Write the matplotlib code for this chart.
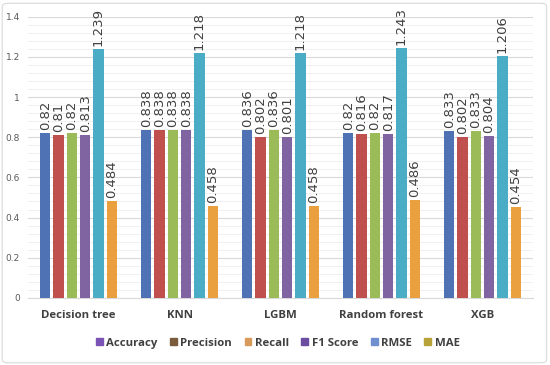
import numpy as np
import matplotlib
matplotlib.use("Agg")
import matplotlib.pyplot as plt
from matplotlib.patches import Patch, FancyBboxPatch

models = ["Decision tree", "KNN", "LGBM", "Random forest", "XGB"]
metrics = ["Accuracy", "Precision", "Recall", "F1 Score", "RMSE", "MAE"]
accuracy = [0.82, 0.838, 0.836, 0.82, 0.833]
precision = [0.81, 0.838, 0.802, 0.816, 0.802]
recall = [0.82, 0.838, 0.836, 0.82, 0.833]
f1 = [0.813, 0.838, 0.801, 0.817, 0.804]
rmse = [1.239, 1.218, 1.218, 1.243, 1.206]
mae = [0.484, 0.458, 0.458, 0.486, 0.454]
series = [accuracy, precision, recall, f1, rmse, mae]

bar_colors = ["#4f72b5", "#c0504d", "#9bbb59", "#8064a2", "#4bacc6", "#eba040"]
legend_colors = ["#7b52b5", "#7a5c3c", "#d89a5a", "#6a4fa0", "#6f8fd0", "#b8a33a"]

fig = plt.figure(figsize=(5.5, 3.65), dpi=100)
ax = fig.add_axes([0.051, 0.184, 0.918, 0.77])

x = np.arange(len(models))
pitch = 0.132
w = 0.1
for i, vals in enumerate(series):
    pos = x + (i - 2.5) * pitch
    ax.bar(pos, vals, width=w, color=bar_colors[i], zorder=3)
    for p, v in zip(pos, vals):
        ax.text(p, v + 0.015, f"{v:g}", rotation=90, ha="center", va="bottom",
                fontsize=9.5, color="#404040", clip_on=False)

ax.set_ylim(0, 1.4)
ax.set_xlim(-0.5, 4.5)
ax.set_yticks(np.arange(0, 1.41, 0.2))
ax.set_yticklabels(["0", "0.2", "0.4", "0.6", "0.8", "1", "1.2", "1.4"])
ax.set_yticks(np.arange(0, 1.41, 0.04), minor=True)
ax.grid(axis="y", which="major", color="#d9d9d9", lw=0.8, zorder=0)
ax.grid(axis="y", which="minor", color="#eeeeee", lw=0.6, zorder=0)
ax.tick_params(axis="y", which="both", length=0, labelsize=6.5, labelcolor="#595959", pad=6)
ax.set_xticks(x)
ax.set_xticklabels(models, fontsize=8.2, fontweight="bold", color="#404040",
                   family="Open Sans")
ax.tick_params(axis="x", length=0, pad=9)
for s in ["top", "right", "left"]:
    ax.spines[s].set_visible(False)
ax.spines["bottom"].set_color("#d9d9d9")

handles = [Patch(color=c, label=m) for c, m in zip(legend_colors, metrics)]
fig.legend(handles=handles, loc="center", bbox_to_anchor=(0.505, 0.06), ncol=6,
           frameon=False, handlelength=0.6, handleheight=0.6, handletextpad=0.3,
           columnspacing=1.1, prop={"family": "Open Sans", "weight": "bold", "size": 8.2},
           labelcolor="#404040")

fig.patches.append(FancyBboxPatch((0.004, 0.006), 0.99, 0.985, boxstyle="round,pad=0,rounding_size=0.01",
                                  transform=fig.transFigure, fill=False, ec="#d9d9d9", lw=0.8))

fig.savefig("out.png", dpi=100)
